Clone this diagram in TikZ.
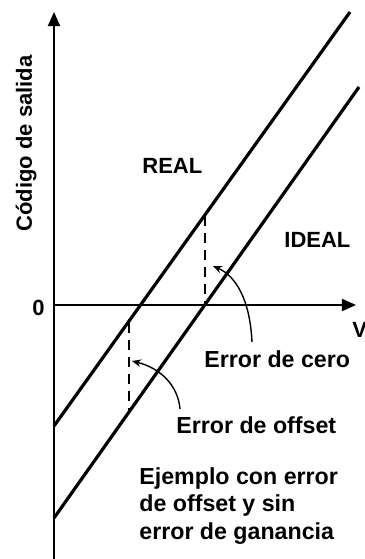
\documentclass[tikz,border=0pt]{standalone}
\usepackage{fontspec}
\setmainfont{Liberation Sans}
\usetikzlibrary{arrows.meta}
\tikzset{
  axis/.style={line width=1pt,-{Triangle[length=7pt,width=6pt]}},
  mainline/.style={line width=1.6pt},
  gapline/.style={line width=1pt,dash pattern=on 5pt off 3.5pt},
  pointer/.style={line width=0.7pt,-{Stealth[length=4.5pt,width=3.8pt]}},
  lbl/.style={font=\fontsize{11}{13.75}\selectfont\bfseries,inner sep=0pt,anchor=base west},
  biglbl/.style={lbl,font=\fontsize{11.6}{13.75}\selectfont\bfseries},
}
\begin{document}
\begin{tikzpicture}[x=0.5pt,y=-0.5pt]
\useasboundingbox (0,0) rectangle (365,559);
% axes
\coordinate (ybot) at (54,559);
\coordinate (ytop) at (54,12);
\coordinate (xstart) at (54,305);
\coordinate (xend) at (356,305);
\draw[axis] (ybot) -- (ytop);
\draw[axis] (xstart) -- (xend);
% lines
\coordinate (r1) at (54,426);
\coordinate (r2) at (350,12);
\coordinate (i1) at (54,518);
\coordinate (i2) at (359,87);
\draw[mainline] (r1) -- (r2);
\draw[mainline] (i1) -- (i2);
% dashed
\coordinate (d1a) at (205,216);
\coordinate (d1b) at (205,305);
\coordinate (d2a) at (129,323);
\coordinate (d2b) at (129,413);
\draw[gapline] (d1a) -- (d1b);
\draw[gapline] (d2a) -- (d2b);
% labels
\node[lbl,rotate=90] (ylab) at (32,232) {Código de salida};
\node[lbl] (zero) at (32,315) {0};
\node[lbl] (vlab) at (352,337) {V};
\node[lbl] (real) at (142,173) {REAL};
\node[lbl] (ideal) at (284,247) {IDEAL};
\node[biglbl] (ecero) at (204,367) {Error de cero};
\node[biglbl] (eoff) at (176,433) {Error de offset};
\node[biglbl,align=left,anchor=north west] (ej) at (139,467) {Ejemplo con error\\de offset y sin\\error de ganancia};
% pointers
\coordinate (p1) at (213,266);
\coordinate (p2) at (132,361);
\draw[pointer] (252,342) .. controls (250,300) and (236,276) .. (p1);
\draw[pointer] (180,409) .. controls (178,385) and (160,368) .. (p2);
\end{tikzpicture}
\end{document}
